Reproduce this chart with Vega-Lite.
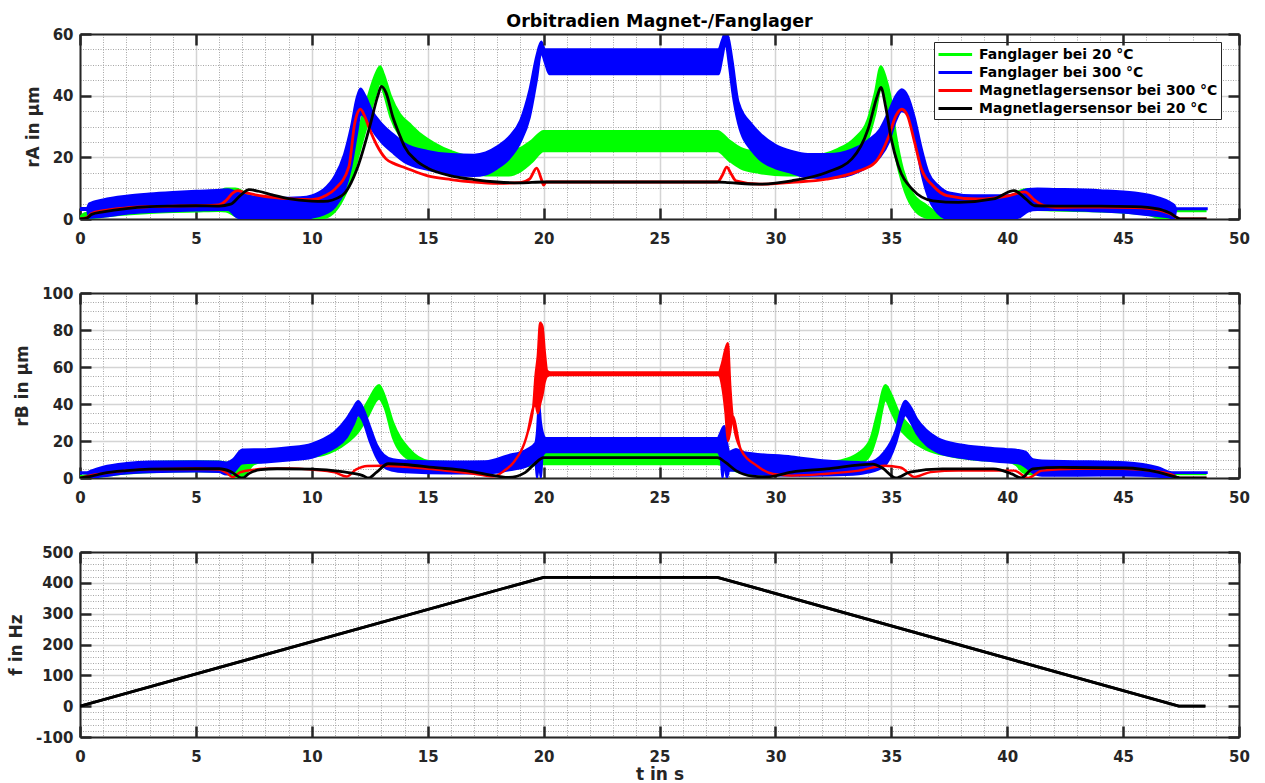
{
 "$schema": "https://vega.github.io/schema/vega-lite/v6.json",
 "background": "white",
 "padding": {"left": 7, "top": 12, "right": 5, "bottom": 3},
 "spacing": 74,
 "bounds": "flush",
 "resolve": {"scale": {"color": "independent"}, "legend": {"color": "independent"}},
 "config": {
  "font": "DejaVu Sans",
  "view": {"stroke": null},
  "axis": {
   "labelFont": "DejaVu Sans", "labelFontWeight": "bold", "labelFontSize": 15, "labelColor": "#262626",
   "titleFont": "DejaVu Sans", "titleFontWeight": "bold", "titleFontSize": 17, "titleColor": "#262626",
   "tickColor": "#262626", "tickWidth": 2.5, "tickSize": -11,
   "domainColor": "#262626", "domainWidth": 2,
   "labelFlush": false, "labelOverlap": false, "labelBound": false
  }
 },
 "datasets": {
  "a_g": [
   {"t":0,"lo":0,"hi":0.6},{"t":0.2,"lo":0,"hi":1.8},{"t":0.5,"lo":0.3,"hi":2.2},{"t":1,"lo":0.8,"hi":5},{"t":2,"lo":1.5,"hi":6.5},{"t":3,"lo":2,"hi":7.5},{"t":4,"lo":2.3,"hi":8},{"t":5,"lo":2.5,"hi":8.5},{"t":6,"lo":2.7,"hi":9},{"t":6.3,"lo":2.5,"hi":9.8},{"t":6.7,"lo":1,"hi":9.8},{"t":7,"lo":0,"hi":9},{"t":7.3,"lo":0,"hi":7.5},{"t":8,"lo":0,"hi":6},{"t":9,"lo":0,"hi":5.5},{"t":9.5,"lo":0,"hi":5.5},{"t":10,"lo":0,"hi":6},{"t":10.5,"lo":0.3,"hi":7},{"t":11,"lo":2.5,"hi":10},{"t":11.5,"lo":9,"hi":16},{"t":11.8,"lo":15,"hi":23},{"t":12.1,"lo":23,"hi":31},{"t":12.4,"lo":31,"hi":39},{"t":12.7,"lo":39,"hi":46},{"t":12.95,"lo":44,"hi":49.5},{"t":13.1,"lo":41,"hi":47},{"t":13.4,"lo":33,"hi":40},{"t":13.8,"lo":27,"hi":34},{"t":14.2,"lo":24,"hi":31},{"t":14.7,"lo":21,"hi":27.5},{"t":15.3,"lo":18,"hi":24.5},{"t":16,"lo":16,"hi":22},{"t":16.7,"lo":15,"hi":20.5},{"t":17.5,"lo":14.2,"hi":20.5},{"t":18.5,"lo":14.2,"hi":21.5},{"t":19,"lo":15.5,"hi":23},{"t":19.5,"lo":18.5,"hi":25.5},{"t":20,"lo":22,"hi":28.5},{"t":27.5,"lo":22,"hi":28.5},{"t":28,"lo":19,"hi":25.5},{"t":28.5,"lo":16.5,"hi":23},{"t":29.3,"lo":15,"hi":21.6},{"t":30.5,"lo":14.2,"hi":20.5},{"t":31.5,"lo":14.2,"hi":20.5},{"t":32.7,"lo":16,"hi":22.7},{"t":33.4,"lo":19,"hi":26},{"t":34,"lo":26,"hi":32.5},{"t":34.3,"lo":34,"hi":41},{"t":34.55,"lo":42,"hi":49.5},{"t":34.75,"lo":40,"hi":46},{"t":34.95,"lo":32,"hi":40},{"t":35.2,"lo":20,"hi":27},{"t":35.5,"lo":11,"hi":16},{"t":35.9,"lo":4,"hi":8.6},{"t":36.5,"lo":0.5,"hi":4.5},{"t":37.2,"lo":0,"hi":1.5},{"t":38,"lo":0,"hi":2},{"t":39,"lo":0,"hi":4},{"t":40,"lo":0,"hi":6},{"t":40.5,"lo":1,"hi":9},{"t":40.9,"lo":3,"hi":9.7},{"t":41.3,"lo":3,"hi":9.5},{"t":42,"lo":2.8,"hi":9},{"t":44,"lo":2.5,"hi":8.5},{"t":46,"lo":1.5,"hi":6.5},{"t":46.8,"lo":0,"hi":3.5},{"t":47.1,"lo":0,"hi":1.5},{"t":47.2,"lo":2.6,"hi":2.6},{"t":48.6,"lo":2.6,"hi":2.6}
  ],
  "a_b": [
   {"t":0,"lo":3,"hi":3.5},{"t":0.3,"lo":3,"hi":3.5},{"t":0.4,"lo":0.5,"hi":5},{"t":1,"lo":0.8,"hi":6.3},{"t":2,"lo":1.8,"hi":7.5},{"t":3,"lo":2.3,"hi":8.2},{"t":4,"lo":2.6,"hi":8.7},{"t":5,"lo":2.8,"hi":9.1},{"t":6,"lo":3,"hi":9.4},{"t":6.4,"lo":3,"hi":9.6},{"t":6.7,"lo":1,"hi":8.8},{"t":7,"lo":0,"hi":8},{"t":7.5,"lo":0,"hi":7.2},{"t":8.5,"lo":0,"hi":6.8},{"t":9.5,"lo":0,"hi":7},{"t":10,"lo":0.5,"hi":7.6},{"t":10.5,"lo":1.5,"hi":9.5},{"t":11,"lo":4,"hi":14},{"t":11.4,"lo":9,"hi":21},{"t":11.7,"lo":17,"hi":30},{"t":11.95,"lo":28,"hi":39.5},{"t":12.1,"lo":34,"hi":42.3},{"t":12.3,"lo":33,"hi":40},{"t":12.6,"lo":29,"hi":35},{"t":13,"lo":25,"hi":31},{"t":13.5,"lo":21.5,"hi":27.5},{"t":14,"lo":18.5,"hi":24.5},{"t":15,"lo":16,"hi":22},{"t":16,"lo":14.5,"hi":21},{"t":17,"lo":14,"hi":20.8},{"t":17.5,"lo":14.5,"hi":21.5},{"t":18,"lo":16.5,"hi":23.5},{"t":18.5,"lo":19.5,"hi":26.5},{"t":19,"lo":25,"hi":32},{"t":19.4,"lo":33,"hi":42},{"t":19.7,"lo":45,"hi":53},{"t":19.9,"lo":54,"hi":57.5},{"t":20.05,"lo":51,"hi":55},{"t":20.25,"lo":47,"hi":55},{"t":27.55,"lo":47,"hi":55},{"t":27.7,"lo":52,"hi":58},{"t":27.85,"lo":57,"hi":60.5},{"t":28,"lo":50,"hi":58},{"t":28.15,"lo":41,"hi":51},{"t":28.4,"lo":31,"hi":38},{"t":29,"lo":22,"hi":30.5},{"t":29.3,"lo":19.5,"hi":28},{"t":30,"lo":16.5,"hi":24},{"t":30.7,"lo":15,"hi":22},{"t":31.4,"lo":13.5,"hi":21},{"t":32.3,"lo":13.3,"hi":21},{"t":33.3,"lo":14.5,"hi":22.5},{"t":34,"lo":17,"hi":25.5},{"t":34.5,"lo":20,"hi":29},{"t":34.9,"lo":25,"hi":35},{"t":35.2,"lo":32,"hi":40},{"t":35.45,"lo":35,"hi":42},{"t":35.7,"lo":34,"hi":40},{"t":36,"lo":27,"hi":33},{"t":36.3,"lo":15,"hi":23},{"t":36.6,"lo":7,"hi":15},{"t":37,"lo":2,"hi":11},{"t":37.5,"lo":0,"hi":8.5},{"t":38.5,"lo":0,"hi":7.6},{"t":40,"lo":0,"hi":7.6},{"t":40.5,"lo":0.5,"hi":8.5},{"t":40.9,"lo":2.5,"hi":9.7},{"t":41.3,"lo":3,"hi":9.8},{"t":42,"lo":3,"hi":9.7},{"t":44,"lo":2.5,"hi":9.3},{"t":45.5,"lo":1.8,"hi":8.5},{"t":46.5,"lo":1,"hi":7},{"t":47,"lo":0.5,"hi":5.5},{"t":47.2,"lo":0,"hi":4.5},{"t":47.3,"lo":3.2,"hi":3.4},{"t":48.6,"lo":3.2,"hi":3.4}
  ],
  "a_r": [
   {"t":0,"v":0},{"t":0.3,"v":0.5},{"t":0.5,"v":1.8},{"t":1,"v":2.7},{"t":2,"v":3.6},{"t":3,"v":4},{"t":4,"v":4.2},{"t":5,"v":4.3},{"t":6,"v":4.6},{"t":6.3,"v":6},{"t":6.6,"v":8.5},{"t":6.8,"v":9.2},{"t":7.1,"v":8.6},{"t":8,"v":7.3},{"t":9,"v":6.6},{"t":10,"v":6.3},{"t":10.6,"v":7.6},{"t":11,"v":9.7},{"t":11.6,"v":17},{"t":11.85,"v":31},{"t":12.1,"v":35.6},{"t":12.3,"v":33},{"t":12.5,"v":29},{"t":12.8,"v":24},{"t":13.2,"v":19.5},{"t":13.6,"v":17.8},{"t":14,"v":16.7},{"t":15,"v":14},{"t":16,"v":12.8},{"t":17,"v":12},{"t":18,"v":11.6},{"t":19,"v":11.8},{"t":19.4,"v":13},{"t":19.7,"v":16.5},{"t":19.9,"v":13},{"t":20,"v":11},{"t":20.1,"v":12},{"t":27.5,"v":12},{"t":27.7,"v":14},{"t":27.9,"v":16.8},{"t":28.1,"v":14.5},{"t":28.3,"v":12.4},{"t":29.3,"v":11.3},{"t":30.7,"v":11.9},{"t":32.2,"v":12.9},{"t":33.6,"v":15.6},{"t":34.3,"v":18.3},{"t":34.9,"v":27},{"t":35.2,"v":33.5},{"t":35.45,"v":35.6},{"t":35.7,"v":33.5},{"t":36,"v":25},{"t":36.3,"v":16.2},{"t":36.8,"v":10.8},{"t":37.4,"v":7.6},{"t":38.7,"v":6.5},{"t":40.1,"v":7.6},{"t":40.75,"v":8.8},{"t":41.2,"v":6},{"t":41.6,"v":4.3},{"t":42.1,"v":3.8},{"t":44,"v":3.9},{"t":45.5,"v":3.7},{"t":46.5,"v":3},{"t":47,"v":1.8},{"t":47.5,"v":0},{"t":48.6,"v":0}
  ],
  "a_k": [
   {"t":0,"v":0},{"t":0.3,"v":0.3},{"t":0.5,"v":1.5},{"t":1,"v":2.3},{"t":2,"v":3.4},{"t":3,"v":4},{"t":4,"v":4.2},{"t":5,"v":4.3},{"t":6,"v":4.2},{"t":6.5,"v":4.8},{"t":6.9,"v":7.5},{"t":7.3,"v":9.5},{"t":7.7,"v":9},{"t":8.3,"v":7.8},{"t":9,"v":6.6},{"t":10,"v":5.8},{"t":10.5,"v":5.7},{"t":11.3,"v":7.6},{"t":12,"v":17.3},{"t":12.5,"v":30},{"t":12.85,"v":40},{"t":13,"v":43},{"t":13.2,"v":41},{"t":13.5,"v":33},{"t":13.8,"v":27},{"t":14,"v":23.5},{"t":14.5,"v":19},{"t":15,"v":16.5},{"t":16,"v":14},{"t":17,"v":12.8},{"t":18,"v":12},{"t":19,"v":11.7},{"t":20,"v":12},{"t":27.5,"v":12},{"t":28,"v":11.8},{"t":29.3,"v":11.3},{"t":30.7,"v":12.4},{"t":32.2,"v":15.1},{"t":33.3,"v":19.5},{"t":34,"v":29.2},{"t":34.4,"v":40},{"t":34.55,"v":42.7},{"t":34.75,"v":36.7},{"t":35,"v":25.9},{"t":35.3,"v":17.3},{"t":35.9,"v":9.7},{"t":36.8,"v":5.9},{"t":37.9,"v":5.4},{"t":39.4,"v":6.5},{"t":40.3,"v":9.2},{"t":40.8,"v":6.5},{"t":41.2,"v":4.3},{"t":42.1,"v":4.2},{"t":44,"v":4.2},{"t":45.5,"v":4},{"t":46.5,"v":3.3},{"t":47,"v":2},{"t":47.5,"v":0},{"t":48.6,"v":0}
  ],
  "b_g": [
   {"t":0,"lo":0,"hi":1},{"t":0.3,"lo":0,"hi":1.5},{"t":0.6,"lo":0.5,"hi":3.5},{"t":1,"lo":1,"hi":5.5},{"t":2,"lo":2.5,"hi":7.5},{"t":3,"lo":3.2,"hi":8.5},{"t":5,"lo":3.7,"hi":9},{"t":6,"lo":3.5,"hi":8.8},{"t":6.4,"lo":2,"hi":8},{"t":6.8,"lo":0.3,"hi":6.5},{"t":7.1,"lo":2,"hi":8},{"t":7.5,"lo":7.5,"hi":12.5},{"t":8,"lo":9,"hi":13.5},{"t":9,"lo":10,"hi":14.5},{"t":10,"lo":11.5,"hi":16},{"t":10.5,"lo":12.5,"hi":18},{"t":11,"lo":15,"hi":21},{"t":11.5,"lo":19,"hi":25.5},{"t":12,"lo":25,"hi":32},{"t":12.4,"lo":33,"hi":41},{"t":12.9,"lo":43,"hi":50.2},{"t":13.15,"lo":38,"hi":44},{"t":13.5,"lo":22,"hi":30},{"t":14.2,"lo":10,"hi":15.6},{"t":15.05,"lo":6.5,"hi":9.1},{"t":16,"lo":5,"hi":8.5},{"t":17,"lo":4,"hi":8},{"t":18,"lo":4.5,"hi":8.5},{"t":19,"lo":6,"hi":10.5},{"t":19.6,"lo":7,"hi":12.5},{"t":20,"lo":7.5,"hi":13.5},{"t":27.5,"lo":7.5,"hi":13.5},{"t":28,"lo":5,"hi":12},{"t":28.5,"lo":3,"hi":10},{"t":29,"lo":2,"hi":8.5},{"t":30,"lo":2,"hi":7.5},{"t":31,"lo":2.8,"hi":7.5},{"t":32,"lo":3.5,"hi":8},{"t":33,"lo":4.5,"hi":10},{"t":33.6,"lo":7,"hi":13.5},{"t":34.1,"lo":13,"hi":21},{"t":34.4,"lo":24,"hi":35},{"t":34.75,"lo":42,"hi":50.2},{"t":35,"lo":36,"hi":45},{"t":35.3,"lo":28,"hi":36},{"t":35.8,"lo":21,"hi":28},{"t":36.5,"lo":15.5,"hi":21},{"t":37.5,"lo":12,"hi":17},{"t":38.6,"lo":10,"hi":14.5},{"t":40,"lo":9,"hi":13.5},{"t":40.4,"lo":7,"hi":12},{"t":40.7,"lo":3,"hi":7},{"t":41.1,"lo":2,"hi":6},{"t":42,"lo":3,"hi":7.5},{"t":44,"lo":3,"hi":7.5},{"t":46,"lo":2,"hi":5.5},{"t":47,"lo":0,"hi":2.5},{"t":47.2,"lo":2.2,"hi":2.2},{"t":48.6,"lo":2.2,"hi":2.2}
  ],
  "b_b": [
   {"t":0,"lo":2.5,"hi":3},{"t":0.3,"lo":2.5,"hi":3},{"t":0.5,"lo":0.3,"hi":4},{"t":1,"lo":1,"hi":6},{"t":2,"lo":2.5,"hi":8},{"t":3,"lo":3.2,"hi":8.8},{"t":5,"lo":3.6,"hi":9},{"t":6,"lo":3.3,"hi":8.8},{"t":6.3,"lo":2,"hi":8.3},{"t":6.6,"lo":3,"hi":10},{"t":7,"lo":8,"hi":15.3},{"t":8,"lo":8.5,"hi":15.5},{"t":9,"lo":9.5,"hi":16.5},{"t":10,"lo":11,"hi":18.5},{"t":10.5,"lo":13.5,"hi":21},{"t":11,"lo":16.5,"hi":25},{"t":11.5,"lo":22,"hi":32},{"t":11.8,"lo":29,"hi":38},{"t":12,"lo":34,"hi":41.5},{"t":12.2,"lo":31,"hi":38},{"t":12.5,"lo":20,"hi":28},{"t":12.8,"lo":11,"hi":18},{"t":13.1,"lo":6,"hi":12.5},{"t":13.5,"lo":4,"hi":10},{"t":14,"lo":3.2,"hi":9.3},{"t":16,"lo":2.5,"hi":8.8},{"t":17.5,"lo":2.5,"hi":9},{"t":18.4,"lo":4,"hi":12},{"t":19.3,"lo":6.5,"hi":15.6},{"t":19.65,"lo":9,"hi":19},{"t":19.72,"lo":0,"hi":25},{"t":19.8,"lo":10,"hi":40},{"t":19.88,"lo":0,"hi":30},{"t":19.95,"lo":12,"hi":25},{"t":20.1,"lo":14,"hi":21.5},{"t":27.5,"lo":14,"hi":21.5},{"t":27.65,"lo":10,"hi":25},{"t":27.72,"lo":0,"hi":27},{"t":27.8,"lo":10,"hi":28},{"t":27.9,"lo":0,"hi":20},{"t":28,"lo":4,"hi":14},{"t":28.3,"lo":4,"hi":15.6},{"t":28.6,"lo":3,"hi":14},{"t":30.7,"lo":1.3,"hi":11.5},{"t":32.2,"lo":1.5,"hi":9.3},{"t":33.6,"lo":2.2,"hi":8.5},{"t":34,"lo":3,"hi":8.4},{"t":34.7,"lo":6.6,"hi":14},{"t":35.2,"lo":19,"hi":26},{"t":35.45,"lo":30,"hi":38},{"t":35.6,"lo":34,"hi":41.6},{"t":35.85,"lo":30,"hi":38},{"t":36.1,"lo":24,"hi":32},{"t":36.5,"lo":18,"hi":26},{"t":37,"lo":14,"hi":21.5},{"t":38,"lo":11,"hi":18},{"t":39,"lo":9.5,"hi":16.5},{"t":40,"lo":8.5,"hi":15.5},{"t":40.5,"lo":8,"hi":15},{"t":40.8,"lo":6,"hi":14},{"t":41.1,"lo":3,"hi":10},{"t":41.5,"lo":1.3,"hi":9.3},{"t":43,"lo":1.3,"hi":9},{"t":45.1,"lo":1.5,"hi":8.4},{"t":46.5,"lo":0.8,"hi":5.7},{"t":47.1,"lo":0,"hi":3},{"t":47.25,"lo":2.8,"hi":3},{"t":48.6,"lo":2.8,"hi":3}
  ],
  "b_r": [
   {"t":0,"lo":0,"hi":0},{"t":0.5,"lo":1.5,"hi":1.5},{"t":1,"lo":2.5,"hi":2.5},{"t":2,"lo":4,"hi":4},{"t":3,"lo":4.8,"hi":4.8},{"t":5,"lo":5,"hi":5},{"t":6,"lo":4.5,"hi":4.5},{"t":6.3,"lo":3,"hi":3},{"t":6.6,"lo":0.5,"hi":0.5},{"t":6.9,"lo":3,"hi":3},{"t":7.5,"lo":4.5,"hi":4.5},{"t":8,"lo":5,"hi":5},{"t":9,"lo":5.2,"hi":5.2},{"t":10,"lo":4.5,"hi":4.5},{"t":11,"lo":3,"hi":3},{"t":11.5,"lo":0.8,"hi":0.8},{"t":11.9,"lo":4.5,"hi":4.5},{"t":12.4,"lo":6.5,"hi":6.5},{"t":13,"lo":6.6,"hi":6.6},{"t":14,"lo":6,"hi":6},{"t":15,"lo":5,"hi":5},{"t":16,"lo":3.7,"hi":3.7},{"t":17,"lo":2.3,"hi":2.3},{"t":17.85,"lo":0.9,"hi":0.9},{"t":18.3,"lo":3.9,"hi":3.9},{"t":18.7,"lo":8.4,"hi":8.4},{"t":19.3,"lo":24,"hi":24},{"t":19.55,"lo":38,"hi":38},{"t":19.65,"lo":40,"hi":55},{"t":19.75,"lo":35,"hi":66},{"t":19.85,"lo":40,"hi":84},{"t":19.95,"lo":45,"hi":82},{"t":20.05,"lo":52,"hi":68},{"t":20.15,"lo":55,"hi":58},{"t":20.3,"lo":55.6,"hi":57},{"t":27.55,"lo":55.6,"hi":57},{"t":27.7,"lo":50,"hi":62},{"t":27.85,"lo":35,"hi":70},{"t":27.95,"lo":20,"hi":72.9},{"t":28.05,"lo":25,"hi":50},{"t":28.15,"lo":33.5,"hi":33.5},{"t":28.5,"lo":15.6,"hi":15.6},{"t":29.2,"lo":6.6,"hi":6.6},{"t":29.9,"lo":2.2,"hi":2.2},{"t":30.7,"lo":1.3,"hi":1.3},{"t":32.1,"lo":2.2,"hi":2.2},{"t":33.6,"lo":4,"hi":4},{"t":34.7,"lo":6.6,"hi":6.6},{"t":35.4,"lo":5.7,"hi":5.7},{"t":36,"lo":0.6,"hi":0.6},{"t":36.7,"lo":3.2,"hi":3.2},{"t":37.9,"lo":4,"hi":4},{"t":40.3,"lo":4,"hi":4},{"t":40.9,"lo":0,"hi":0},{"t":41.5,"lo":4,"hi":4},{"t":43,"lo":5,"hi":5},{"t":45,"lo":5,"hi":5},{"t":46.5,"lo":3.5,"hi":3.5},{"t":47.2,"lo":1.3,"hi":1.3},{"t":47.4,"lo":0,"hi":0},{"t":48.6,"lo":0,"hi":0}
  ],
  "b_k": [
   {"t":0,"v":0},{"t":0.5,"v":1},{"t":1,"v":2.5},{"t":2,"v":4},{"t":3,"v":4.8},{"t":5,"v":5},{"t":6,"v":5},{"t":6.5,"v":3.5},{"t":7,"v":0},{"t":7.3,"v":2.5},{"t":7.8,"v":4.5},{"t":8.5,"v":5},{"t":10,"v":4.8},{"t":11.3,"v":3.4},{"t":12.2,"v":1.3},{"t":12.45,"v":0},{"t":12.8,"v":3.2},{"t":13.3,"v":7.7},{"t":14,"v":7.3},{"t":15.25,"v":5.7},{"t":16.7,"v":3.9},{"t":18,"v":1},{"t":18.5,"v":0.3},{"t":19.2,"v":2.9},{"t":19.6,"v":7.5},{"t":20,"v":11},{"t":27.5,"v":11},{"t":27.85,"v":8.4},{"t":28.3,"v":4},{"t":29,"v":1},{"t":29.6,"v":0.6},{"t":30.7,"v":3.2},{"t":32.2,"v":4.9},{"t":34.2,"v":7.5},{"t":34.6,"v":5.5},{"t":35.2,"v":0},{"t":35.8,"v":3.2},{"t":37.2,"v":4.9},{"t":39.4,"v":4.9},{"t":40.2,"v":2.2},{"t":40.6,"v":0},{"t":41.1,"v":4.9},{"t":42.3,"v":5.7},{"t":45.1,"v":5.4},{"t":46.5,"v":3.2},{"t":47.3,"v":0.5},{"t":47.5,"v":0},{"t":48.6,"v":0}
  ],
  "f": [
   {"t":0,"f":0},{"t":20,"f":418},{"t":27.5,"f":418},{"t":47.4,"f":0},{"t":48.55,"f":0}
  ]
 },
 "vconcat": [
  {
   "width": 1159, "height": 185,
   "title": {"text": "Orbitradien Magnet-/Fanglager", "font": "DejaVu Sans", "fontSize": 17.5, "fontWeight": "bold", "color": "#000000", "offset": -3},
   "layer": [
    {
     "data": {"name": "a_g"},
     "mark": {"type": "area", "fill": "#00ff00", "stroke": "#00ff00", "strokeWidth": 2.4, "clip": true, "interpolate": "monotone"},
     "encoding": {
      "x": {"field": "t", "type": "quantitative", "scale": {"domain": [0, 50], "nice": false, "zero": false},
       "axis": {"orient": "bottom", "title": null, "values": [0,1,2,3,4,5,6,7,8,9,10,11,12,13,14,15,16,17,18,19,20,21,22,23,24,25,26,27,28,29,30,31,32,33,34,35,36,37,38,39,40,41,42,43,44,45,46,47,48,49,50],
        "labelExpr": "datum.value % 5 === 0 ? datum.label : ''", "labelPadding": 23,
        "grid": true,
        "gridColor": {"condition": {"test": "datum.value % 5 === 0", "value": "#d4d4d4"}, "value": "#a6a6a6"},
        "gridDash": {"condition": {"test": "datum.value % 5 === 0", "value": [1, 0]}, "value": [1, 1.5]},
        "gridWidth": {"condition": {"test": "datum.value % 5 === 0", "value": 1.5}, "value": 1},
        "tickOpacity": {"condition": {"test": "datum.value % 5 === 0", "value": 1}, "value": 0},
        "zindex": 0}},
      "y": {"field": "lo", "type": "quantitative", "scale": {"domain": [0, 60], "nice": false, "zero": false},
       "axis": {"orient": "left", "title": "rA in μm", "titlePadding": 10, "values": [0,5,10,15,20,25,30,35,40,45,50,55,60],
        "labelExpr": "datum.value % 20 === 0 ? datum.label : ''", "labelPadding": 18,
        "grid": true,
        "gridColor": {"condition": {"test": "datum.value % 20 === 0", "value": "#d4d4d4"}, "value": "#a6a6a6"},
        "gridDash": {"condition": {"test": "datum.value % 20 === 0", "value": [1, 0]}, "value": [1, 1.5]},
        "gridWidth": {"condition": {"test": "datum.value % 20 === 0", "value": 1.5}, "value": 1},
        "tickOpacity": {"condition": {"test": "datum.value % 20 === 0", "value": 1}, "value": 0},
        "zindex": 0}},
      "y2": {"field": "hi"}
     }
    },
    {
     "data": {"name": "a_b"},
     "mark": {"type": "area", "fill": "#0000ff", "stroke": "#0000ff", "strokeWidth": 2.4, "clip": true, "interpolate": "monotone"},
     "encoding": {
      "x": {"field": "t", "type": "quantitative", "scale": {"domain": [0, 50], "nice": false, "zero": false},
       "axis": {"orient": "top", "title": null, "labels": false, "grid": false, "values": [0,5,10,15,20,25,30,35,40,45,50], "zindex": 1}},
      "y": {"field": "lo", "type": "quantitative", "scale": {"domain": [0, 60], "nice": false, "zero": false},
       "axis": {"orient": "right", "title": null, "labels": false, "grid": false, "values": [0,20,40,60], "zindex": 1}},
      "y2": {"field": "hi"}
     }
    },
    {
     "data": {"name": "a_r"},
     "mark": {"type": "line", "strokeWidth": 2.8, "clip": true, "interpolate": "monotone"},
     "encoding": {
      "x": {"field": "t", "type": "quantitative", "axis": null},
      "y": {"field": "v", "type": "quantitative", "axis": null},
      "color": {"datum": "Magnetlagersensor bei 300 °C", "type": "nominal",
       "scale": {"domain": ["Fanglager bei 20 °C", "Fanglager bei 300 °C", "Magnetlagersensor bei 300 °C", "Magnetlagersensor bei 20 °C"], "range": ["#00ff00", "#0000ff", "#ff0000", "#000000"]},
       "legend": {"orient": "none", "legendX": 854, "legendY": 8, "title": null, "symbolType": "M-1,0H3.2", "symbolSize": 256, "symbolStrokeWidth": 2.8, "symbolOpacity": 1,
        "labelFont": "DejaVu Sans", "labelFontSize": 14, "labelFontWeight": "bold", "labelColor": "#000000", "labelOffset": 23, "labelLimit": 400,
        "rowPadding": 1, "padding": 3, "strokeColor": "#262626", "fillColor": "#ffffff"}}
     }
    },
    {
     "data": {"name": "a_k"},
     "mark": {"type": "line", "strokeWidth": 2.8, "clip": true, "interpolate": "monotone"},
     "encoding": {
      "x": {"field": "t", "type": "quantitative", "axis": null},
      "y": {"field": "v", "type": "quantitative", "axis": null},
      "color": {"datum": "Magnetlagersensor bei 20 °C", "type": "nominal",
       "scale": {"domain": ["Fanglager bei 20 °C", "Fanglager bei 300 °C", "Magnetlagersensor bei 300 °C", "Magnetlagersensor bei 20 °C"], "range": ["#00ff00", "#0000ff", "#ff0000", "#000000"]},
       "legend": {"orient": "none", "legendX": 854, "legendY": 8, "title": null, "symbolType": "M-1,0H3.2", "symbolSize": 256, "symbolStrokeWidth": 2.8, "symbolOpacity": 1,
        "labelFont": "DejaVu Sans", "labelFontSize": 14, "labelFontWeight": "bold", "labelColor": "#000000", "labelOffset": 23, "labelLimit": 400,
        "rowPadding": 1, "padding": 3, "strokeColor": "#262626", "fillColor": "#ffffff"}}
     }
    }
   ]
  },
  {
   "width": 1159, "height": 185,
   "layer": [
    {
     "data": {"name": "b_g"},
     "mark": {"type": "area", "fill": "#00ff00", "stroke": "#00ff00", "strokeWidth": 2.4, "clip": true, "interpolate": "monotone"},
     "encoding": {
      "x": {"field": "t", "type": "quantitative", "scale": {"domain": [0, 50], "nice": false, "zero": false},
       "axis": {"orient": "bottom", "title": null, "values": [0,1,2,3,4,5,6,7,8,9,10,11,12,13,14,15,16,17,18,19,20,21,22,23,24,25,26,27,28,29,30,31,32,33,34,35,36,37,38,39,40,41,42,43,44,45,46,47,48,49,50],
        "labelExpr": "datum.value % 5 === 0 ? datum.label : ''", "labelPadding": 23,
        "grid": true,
        "gridColor": {"condition": {"test": "datum.value % 5 === 0", "value": "#d4d4d4"}, "value": "#a6a6a6"},
        "gridDash": {"condition": {"test": "datum.value % 5 === 0", "value": [1, 0]}, "value": [1, 1.5]},
        "gridWidth": {"condition": {"test": "datum.value % 5 === 0", "value": 1.5}, "value": 1},
        "tickOpacity": {"condition": {"test": "datum.value % 5 === 0", "value": 1}, "value": 0},
        "zindex": 0}},
      "y": {"field": "lo", "type": "quantitative", "scale": {"domain": [0, 100], "nice": false, "zero": false},
       "axis": {"orient": "left", "title": "rB in μm", "titlePadding": 10, "values": [0,5,10,15,20,25,30,35,40,45,50,55,60,65,70,75,80,85,90,95,100],
        "labelExpr": "datum.value % 20 === 0 ? datum.label : ''", "labelPadding": 18,
        "grid": true,
        "gridColor": {"condition": {"test": "datum.value % 20 === 0", "value": "#d4d4d4"}, "value": "#a6a6a6"},
        "gridDash": {"condition": {"test": "datum.value % 20 === 0", "value": [1, 0]}, "value": [1, 1.5]},
        "gridWidth": {"condition": {"test": "datum.value % 20 === 0", "value": 1.5}, "value": 1},
        "tickOpacity": {"condition": {"test": "datum.value % 20 === 0", "value": 1}, "value": 0},
        "zindex": 0}},
      "y2": {"field": "hi"}
     }
    },
    {
     "data": {"name": "b_b"},
     "mark": {"type": "area", "fill": "#0000ff", "stroke": "#0000ff", "strokeWidth": 2.4, "clip": true, "interpolate": "monotone"},
     "encoding": {
      "x": {"field": "t", "type": "quantitative", "scale": {"domain": [0, 50], "nice": false, "zero": false},
       "axis": {"orient": "top", "title": null, "labels": false, "grid": false, "values": [0,5,10,15,20,25,30,35,40,45,50], "zindex": 1}},
      "y": {"field": "lo", "type": "quantitative", "scale": {"domain": [0, 100], "nice": false, "zero": false},
       "axis": {"orient": "right", "title": null, "labels": false, "grid": false, "values": [0,20,40,60,80,100], "zindex": 1}},
      "y2": {"field": "hi"}
     }
    },
    {
     "data": {"name": "b_r"},
     "mark": {"type": "area", "fill": "#ff0000", "stroke": "#ff0000", "strokeWidth": 2.4, "clip": true, "interpolate": "monotone"},
     "encoding": {
      "x": {"field": "t", "type": "quantitative", "axis": null},
      "y": {"field": "lo", "type": "quantitative", "axis": null},
      "y2": {"field": "hi"}
     }
    },
    {
     "data": {"name": "b_k"},
     "mark": {"type": "line", "color": "#000000", "strokeWidth": 2.8, "clip": true, "interpolate": "monotone"},
     "encoding": {
      "x": {"field": "t", "type": "quantitative", "axis": null},
      "y": {"field": "v", "type": "quantitative", "axis": null}
     }
    }
   ]
  },
  {
   "width": 1159, "height": 185,
   "layer": [
    {
     "data": {"name": "f"},
     "mark": {"type": "line", "color": "#000000", "strokeWidth": 2.8, "clip": true},
     "encoding": {
      "x": {"field": "t", "type": "quantitative", "scale": {"domain": [0, 50], "nice": false, "zero": false},
       "axis": {"orient": "bottom", "title": "t in s", "titlePadding": 2, "values": [0,1,2,3,4,5,6,7,8,9,10,11,12,13,14,15,16,17,18,19,20,21,22,23,24,25,26,27,28,29,30,31,32,33,34,35,36,37,38,39,40,41,42,43,44,45,46,47,48,49,50],
        "labelExpr": "datum.value % 5 === 0 ? datum.label : ''", "labelPadding": 23,
        "grid": true,
        "gridColor": {"condition": {"test": "datum.value % 5 === 0", "value": "#d4d4d4"}, "value": "#a6a6a6"},
        "gridDash": {"condition": {"test": "datum.value % 5 === 0", "value": [1, 0]}, "value": [1, 1.5]},
        "gridWidth": {"condition": {"test": "datum.value % 5 === 0", "value": 1.5}, "value": 1},
        "tickOpacity": {"condition": {"test": "datum.value % 5 === 0", "value": 1}, "value": 0},
        "zindex": 0}},
      "y": {"field": "f", "type": "quantitative", "scale": {"domain": [-100, 500], "nice": false, "zero": false},
       "axis": {"orient": "left", "title": "f in Hz", "titlePadding": 10, "values": [-100,-80,-60,-40,-20,0,20,40,60,80,100,120,140,160,180,200,220,240,260,280,300,320,340,360,380,400,420,440,460,480,500],
        "labelExpr": "datum.value % 100 === 0 ? '' + datum.value : ''", "labelPadding": 18,
        "grid": true,
        "gridColor": {"condition": {"test": "datum.value % 100 === 0", "value": "#d4d4d4"}, "value": "#a6a6a6"},
        "gridDash": {"condition": {"test": "datum.value % 100 === 0", "value": [1, 0]}, "value": [1, 1.5]},
        "gridWidth": {"condition": {"test": "datum.value % 100 === 0", "value": 1.5}, "value": 1},
        "tickOpacity": {"condition": {"test": "datum.value % 100 === 0", "value": 1}, "value": 0},
        "zindex": 0}}
     }
    },
    {
     "data": {"name": "f"},
     "mark": {"type": "line", "color": "#000000", "strokeWidth": 2.8, "clip": true},
     "encoding": {
      "x": {"field": "t", "type": "quantitative", "scale": {"domain": [0, 50], "nice": false, "zero": false},
       "axis": {"orient": "top", "title": null, "labels": false, "grid": false, "values": [0,5,10,15,20,25,30,35,40,45,50], "zindex": 1}},
      "y": {"field": "f", "type": "quantitative", "scale": {"domain": [-100, 500], "nice": false, "zero": false},
       "axis": {"orient": "right", "title": null, "labels": false, "grid": false, "values": [-100,0,100,200,300,400,500], "zindex": 1}}
     }
    }
   ]
  }
 ]
}
